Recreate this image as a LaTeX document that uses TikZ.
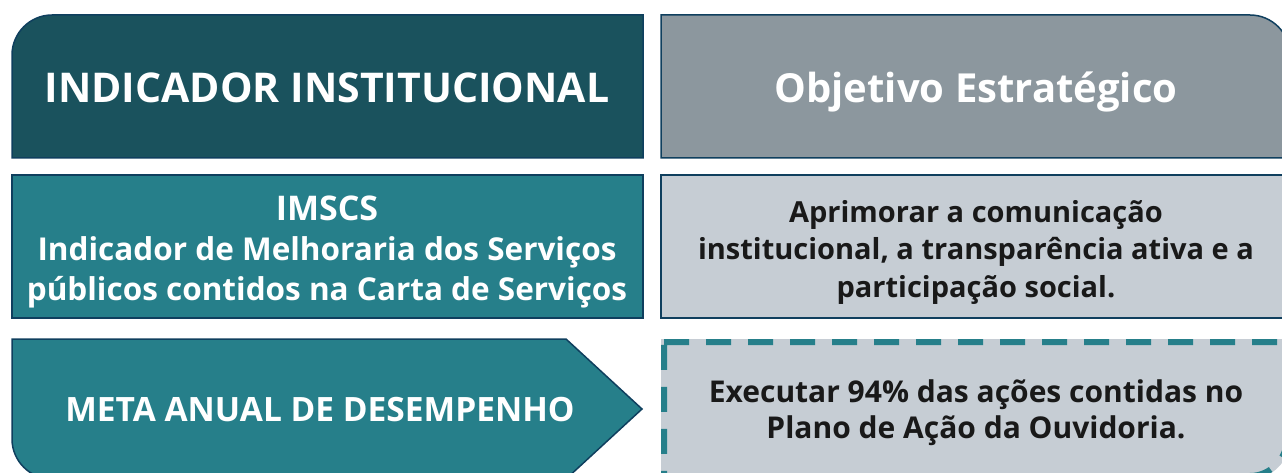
\documentclass[tikz,border=0pt]{standalone}
\usepackage{fontspec}
\setmainfont{Open Sans}
\definecolor{darkteal}{HTML}{1A525D}
\definecolor{greybox}{HTML}{8C979E}
\definecolor{tealbox}{HTML}{267F8A}
\definecolor{lightbox}{HTML}{C6CDD4}
\definecolor{navy}{HTML}{0F3F5E}
\begin{document}
\begin{tikzpicture}[x=1pt,y=-1pt,
  boxline/.style={draw=navy,line width=1.5pt},
  whitetxt/.style={text=white,inner sep=0pt,align=center},
  blacktxt/.style={text=black!90,inner sep=0pt,align=center}]
\useasboundingbox (0,0) rectangle (1282,473);
\clip (0,0) rectangle (1282,473);
% top row
\path[boxline,fill=darkteal] (12,158) -- (12,55) .. controls (12,33) and (30,15) .. (52,15) -- (643,15) -- (643,158) -- cycle;
\path[boxline,fill=greybox] (661,15) -- (1250,15) .. controls (1272,15) and (1290,33) .. (1290,55) -- (1290,158) -- (661,158) -- cycle;
% middle row
\path[boxline,fill=tealbox] (12,175) rectangle (643,318);
\path[boxline,fill=lightbox] (661,175) rectangle (1290,318);
% bottom row
\path[boxline,fill=tealbox] (12,339) -- (566,339) -- (642,409) -- (566,479) -- (52,479) .. controls (30,479) and (12,461) .. (12,439) -- cycle;
\path[fill=lightbox] (661,339) -- (1290,339) -- (1290,439) .. controls (1290,461) and (1272,479) .. (1250,479) -- (661,479) -- cycle;
\draw[tealbox,line width=6pt,dash pattern=on 25pt off 17pt] (664,342) -- (1287,342) -- (1287,439) .. controls (1287,459) and (1270,476) .. (1250,476) -- (664,476) -- cycle;
% texts
\node[whitetxt,anchor=base,font=\fontsize{41}{50}\selectfont\bfseries] (ind) at (327,103) {INDICADOR INSTITUCIONAL};
\node[whitetxt,anchor=base,font=\fontsize{40}{50}\selectfont\bfseries] (obj) at (976,103) {Objetivo Estratégico};
\node[whitetxt,anchor=base,font=\fontsize{31.5}{40}\selectfont\bfseries] (ims) at (327,300) {{\fontsize{34}{40}\selectfont IMSCS}\\Indicador de Melhoraria dos Serviços\\públicos contidos na Carta de Serviços};
\node[blacktxt,anchor=base,font=\fontsize{29}{37.5}\selectfont\bfseries] (apr) at (976,297) {Aprimorar a comunicação\\institucional, a transparência ativa e a\\participação social.};
\node[whitetxt,anchor=base,font=\fontsize{33.5}{40}\selectfont\bfseries] (meta) at (320,421) {META ANUAL DE DESEMPENHO};
\node[blacktxt,anchor=base,font=\fontsize{30}{36}\selectfont\bfseries] (exe) at (976,438) {Executar 94\% das ações contidas no\\Plano de Ação da Ouvidoria.};
\end{tikzpicture}
\end{document}
